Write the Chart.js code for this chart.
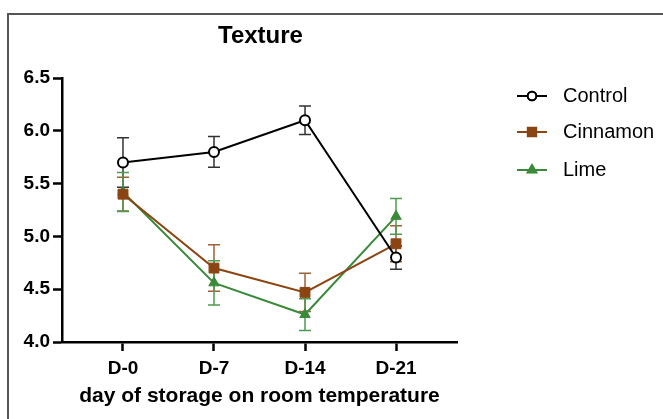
<!DOCTYPE html>
<html>
<head>
<meta charset="utf-8">
<script src="https://cdn.jsdelivr.net/npm/chart.js@4"></script>
<style>
  body { margin: 0; background: #fff; }
  #wrap { position: relative; width: 663px; height: 419px; }
  #frame { position: absolute; left: 7px; top: 13px; right: -2px; bottom: -2px; border-top: 2px solid #555; border-left: 2px solid #555; }
  canvas { position: absolute; left: 0; top: 0; }
</style>
</head>
<body>
<div id="wrap">
  <div id="frame"></div>
  <canvas id="grafico" width="663" height="419"></canvas>
</div>
<script>
// Texture during storage
const dias = ['D-0', 'D-7', 'D-14', 'D-21']
const control = [5.70, 5.80, 6.10, 4.80]
const controlErr = [0.235, 0.145, 0.135, 0.11]
const canela = [5.40, 4.70, 4.47, 4.93]
const canelaErr = [0.16, 0.22, 0.18, 0.17]
const lima = [5.42, 4.56, 4.26, 5.19]
const limaErr = [0.185, 0.21, 0.15, 0.17]
const yTicks = [4.0, 4.5, 5.0, 5.5, 6.0, 6.5]

const puntos = arr => arr.map((v, i) => ({ x: i, y: v }))

const errores = {
    id: 'errores',
    beforeDatasetsDraw(chart) {
        const ctx = chart.ctx
        const xs = chart.scales.x
        const ys = chart.scales.y
        chart.data.datasets.forEach(ds => {
            ctx.save()
            ctx.strokeStyle = ds.errColor
            ctx.lineWidth = 1.5
            ds.data.forEach((p, i) => {
                const x = xs.getPixelForValue(p.x)
                const y1 = ys.getPixelForValue(p.y - ds.err[i])
                const y2 = ys.getPixelForValue(p.y + ds.err[i])
                ctx.beginPath()
                ctx.moveTo(x, y1); ctx.lineTo(x, y2)
                ctx.moveTo(x - 6, y1); ctx.lineTo(x + 6, y1)
                ctx.moveTo(x - 6, y2); ctx.lineTo(x + 6, y2)
                ctx.stroke()
            })
            ctx.restore()
        })
    },
    afterDraw(chart) {
        const ctx = chart.ctx
        const area = chart.chartArea
        ctx.save()
        ctx.fillStyle = '#000'
        ctx.font = 'bold 24px "Liberation Sans", Arial, sans-serif'
        ctx.textAlign = 'center'
        ctx.textBaseline = 'middle'
        ctx.fillText('Texture', (area.left + area.right) / 2 + 1, 36)

        // leyenda
        ctx.font = '20px "Liberation Sans", Arial, sans-serif'
        ctx.textAlign = 'left'
        const filas = [96, 132, 170]
        chart.data.datasets.forEach((ds, i) => {
            const y = filas[i]
            ctx.strokeStyle = ds.borderColor
            ctx.lineWidth = 2
            ctx.beginPath()
            ctx.moveTo(517, y); ctx.lineTo(547, y)
            ctx.stroke()
            Chart.helpers.drawPoint(ctx, {
                pointStyle: ds.pointStyle,
                radius: ds.pointRadius * 0.85,
                borderWidth: ds.pointBorderWidth
            }, 532, y)
            ctx.fillStyle = ds.pointBackgroundColor
            ctx.strokeStyle = ds.borderColor
            ctx.lineWidth = ds.pointBorderWidth
            ctx.fill()
            ctx.stroke()
            ctx.fillStyle = '#000'
            ctx.fillText(ds.label, 563, y)
        })
        ctx.restore()
    }
}

new Chart(document.getElementById('grafico'), {
    type: 'line',
    data: {
        datasets: [{
            label: 'Control',
            data: puntos(control),
            err: controlErr,
            errColor: '#333',
            borderColor: '#000',
            borderWidth: 2,
            pointStyle: 'circle',
            pointRadius: 5,
            pointBackgroundColor: '#fff',
            pointBorderColor: '#000',
            pointBorderWidth: 2
        }, {
            label: 'Cinnamon',
            data: puntos(canela),
            err: canelaErr,
            errColor: '#a0603a',
            borderColor: '#8b4513',
            borderWidth: 2,
            pointStyle: 'rect',
            pointRadius: 7,
            pointBackgroundColor: '#8b4513',
            pointBorderColor: '#8b4513',
            pointBorderWidth: 1
        }, {
            label: 'Lime',
            data: puntos(lima),
            err: limaErr,
            errColor: '#4f9a4f',
            borderColor: '#3a8a3a',
            borderWidth: 2,
            pointStyle: 'triangle',
            pointRadius: 6,
            pointBackgroundColor: '#3a8a3a',
            pointBorderColor: '#3a8a3a',
            pointBorderWidth: 1
        }]
    },
    options: {
        responsive: false,
        animation: false,
        layout: { padding: { left: 0, top: 78, right: 206, bottom: 0 } },
        plugins: { legend: { display: false }, title: { display: false }, tooltip: { enabled: false } },
        scales: {
            x: {
                type: 'linear',
                min: -0.67,
                max: 3.67,
                afterBuildTicks: axis => { axis.ticks = dias.map((d, i) => ({ value: i })) },
                afterFit: axis => { axis.height = 77 },
                border: { color: '#000', width: 2.5 },
                grid: { display: true, drawOnChartArea: false, drawTicks: true, tickLength: 9, tickColor: '#000', tickWidth: 2.5 },
                ticks: {
                    color: '#000',
                    padding: 6,
                    font: { family: '"Liberation Sans", Arial, sans-serif', size: 19, weight: 'bold' },
                    callback: v => dias[v]
                },
                title: {
                    display: true,
                    text: 'day of storage on room temperature',
                    color: '#000',
                    padding: { top: 2, bottom: 10 },
                    font: { family: '"Liberation Sans", Arial, sans-serif', size: 21, weight: 'bold' }
                }
            },
            y: {
                min: 4.0,
                max: 6.5,
                afterBuildTicks: axis => { axis.ticks = yTicks.map(v => ({ value: v })) },
                afterFit: axis => { axis.width = 62 },
                border: { color: '#000', width: 2.5 },
                grid: { display: true, drawOnChartArea: false, drawTicks: true, tickLength: 9, tickColor: '#000', tickWidth: 2.5 },
                ticks: {
                    color: '#000',
                    padding: 3,
                    font: { family: '"Liberation Sans", Arial, sans-serif', size: 19, weight: 'bold' },
                    callback: v => v.toFixed(1)
                }
            }
        }
    },
    plugins: [errores]
})
</script>
</body>
</html>
